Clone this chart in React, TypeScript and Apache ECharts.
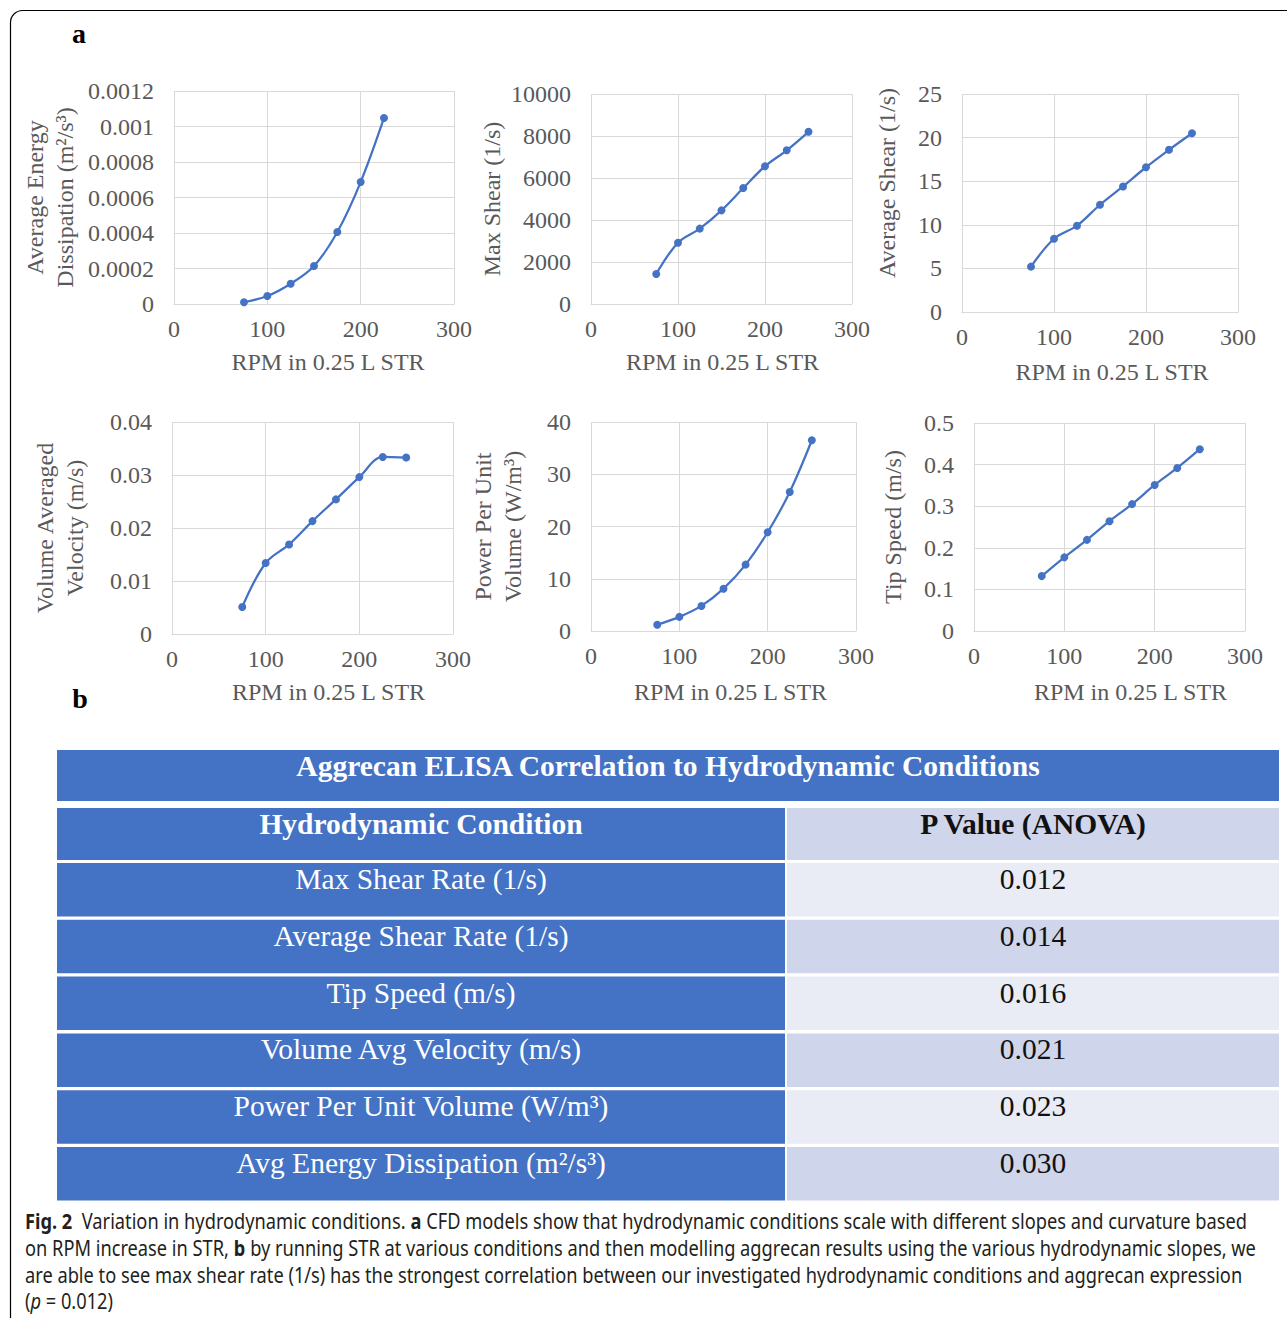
import React, { useEffect, useRef } from "react";
import * as echarts from "echarts";

// ---------------- data ----------------
const rpm7 = [75, 100, 125, 150, 175, 200, 225];
const rpm8 = [75, 100, 125, 150, 175, 200, 225, 250];
const energyDissipation = [0.00001, 0.000045, 0.000114, 0.000214, 0.000406, 0.000687, 0.001048];
const maxShear = [1430, 2920, 3590, 4460, 5520, 6560, 7320, 8200];
const avgShear = [5.2, 8.4, 9.9, 12.3, 14.4, 16.6, 18.6, 20.5];
const volVelocity = [0.0051, 0.0134, 0.0169, 0.0213, 0.0254, 0.0296, 0.0334, 0.0333];
const powerPerVolume = [1.2, 2.7, 4.8, 8.1, 12.7, 18.9, 26.6, 36.5];
const tipSpeed = [0.132, 0.177, 0.219, 0.264, 0.305, 0.351, 0.392, 0.437];

const xTickMax = 300;
const xTickStep = 100;
const xAxisTitle = "RPM in 0.25 L STR";

const tableTitle = "Aggrecan ELISA Correlation to Hydrodynamic Conditions";
const tableHeaders = ["Hydrodynamic Condition", "P Value (ANOVA)"];
const conditions = [
  "Max Shear Rate (1/s)",
  "Average Shear Rate (1/s)",
  "Tip Speed (m/s)",
  "Volume Avg Velocity (m/s)",
  "Power Per Unit Volume (W/m³)",
  "Avg Energy Dissipation (m²/s³)",
];
const pValues = ["0.012", "0.014", "0.016", "0.021", "0.023", "0.030"];

// caption: [text, style] segments per line (n normal, b bold, i italic)
const captionLine1: [string, string][] = [
  ["Fig. 2", "b"],
  ["  Variation in hydrodynamic conditions. ", "n"],
  ["a", "b"],
  [" CFD models show that hydrodynamic conditions scale with different slopes and curvature based", "n"],
];
const captionLine2: [string, string][] = [
  ["on RPM increase in STR, ", "n"],
  ["b", "b"],
  [" by running STR at various conditions and then modelling aggrecan results using the various hydrodynamic slopes, we", "n"],
];
const captionLine3: [string, string][] = [
  ["are able to see max shear rate (1/s) has the strongest correlation between our investigated hydrodynamic conditions and aggrecan expression", "n"],
];
const captionLine4: [string, string][] = [
  ["(", "n"],
  ["p", "i"],
  [" = 0.012)", "n"],
];

// ---------------- styles / layout ----------------
const SERIF = '"Liberation Serif", "Times New Roman", serif';
const SANS = '"Noto Sans", "Open Sans", sans-serif';
const AXIS_GRAY = "#595959";
const GRID_GRAY = "#d9d9d9";
const BLUE = "#4472C4";

const panels = [
  { grid: { left: 174, top: 91, width: 280, height: 213 }, x: rpm7, y: energyDissipation, yMax: 0.0012, yStep: 0.0002, dec: 4,
    yName: "Average Energy\nDissipation (m²/s³)", yGap: 94, yShift: 0, xGap: 46, xShift: 14 },
  { grid: { left: 591, top: 94, width: 261, height: 210 }, x: rpm8, y: maxShear, yMax: 10000, yStep: 2000, dec: 0,
    yName: "Max Shear (1/s)", yGap: 81, yShift: 0, xGap: 46, xShift: 1 },
  { grid: { left: 962, top: 94, width: 276, height: 218 }, x: rpm8, y: avgShear, yMax: 25, yStep: 5, dec: 0,
    yName: "Average Shear (1/s)", yGap: 60, yShift: 20, xGap: 48, xShift: 12 },
  { grid: { left: 172, top: 422, width: 281, height: 212 }, x: rpm8, y: volVelocity, yMax: 0.04, yStep: 0.01, dec: 2,
    yName: "Volume Averaged\nVelocity (m/s)", yGap: 82, yShift: 0, xGap: 46, xShift: 16 },
  { grid: { left: 591, top: 422, width: 265, height: 209 }, x: rpm8, y: powerPerVolume, yMax: 40, yStep: 10, dec: 0,
    yName: "Power Per Unit\nVolume (W/m³)", yGap: 63, yShift: 0, xGap: 49, xShift: 7 },
  { grid: { left: 974, top: 423, width: 271, height: 208 }, x: rpm8, y: tipSpeed, yMax: 0.5, yStep: 0.1, dec: 1,
    yName: "Tip Speed (m/s)", yGap: 66, yShift: 0, xGap: 49, xShift: 21 },
];

const TABLE = {
  left: 57, right: 1279, split: 786, gap: 2,
  titleTop: 750, titleH: 51,
  headTop: 808, headH: 52,
  rowTop: 863, rowPitch: 56.8, rowH: 53.5,
  textDy: 16, fontSize: 29.5,
};

const CAPTION = { x: 25, right: 1248, ys: [1221, 1248, 1274.5, 1301], fontSize: 21, color: "#231f20" };

function segFont(style: string, size: number) {
  const w = style === "b" ? "bold " : style === "i" ? "italic " : "";
  return `${w}${size}px ${SANS}`;
}

function measureLine(segs: [string, string][], size: number) {
  const ctx = document.createElement("canvas").getContext("2d")!;
  let w = 0;
  for (const [t, s] of segs) {
    ctx.font = segFont(s, size);
    w += ctx.measureText(t).width;
  }
  return w;
}

function buildOption() {
  const grids: any[] = [];
  const xAxes: any[] = [];
  const yAxes: any[] = [];
  const series: any[] = [];

  panels.forEach((p, i) => {
    grids.push({ ...p.grid, containLabel: false, outerBoundsMode: "none" });
    xAxes.push({
      type: "value",
      gridIndex: i,
      min: 0,
      max: xTickMax,
      interval: xTickStep,
      axisLine: { show: true, lineStyle: { color: GRID_GRAY, width: 1 } },
      axisTick: { show: false },
      splitLine: { show: true, lineStyle: { color: GRID_GRAY, width: 1 } },
      axisLabel: { color: AXIS_GRAY, fontFamily: SERIF, fontSize: 24, margin: 13 },
      name: xAxisTitle,
      nameLocation: "middle",
      nameGap: p.xGap,
      nameTextStyle: { color: AXIS_GRAY, fontFamily: SERIF, fontSize: 24, padding: [0, 0, 0, 2 * p.xShift] },
    });
    yAxes.push({
      type: "value",
      gridIndex: i,
      min: 0,
      max: p.yMax,
      interval: p.yStep,
      axisLine: { show: false },
      axisTick: { show: false },
      splitLine: { show: true, lineStyle: { color: GRID_GRAY, width: 1 } },
      axisLabel: {
        color: AXIS_GRAY, fontFamily: SERIF, fontSize: 24, margin: 20,
        formatter: (v: number) => String(+v.toFixed(p.dec)),
      },
      name: p.yName,
      nameLocation: "middle",
      nameGap: p.yGap,
      nameTextStyle: {
        color: AXIS_GRAY, fontFamily: SERIF, fontSize: 24, lineHeight: 30,
        padding: [0, 0, 0, 2 * p.yShift],
      },
    });
    series.push({
      type: "line",
      xAxisIndex: i,
      yAxisIndex: i,
      data: p.x.map((xv, k) => [xv, p.y[k]]),
      smooth: 0.35,
      symbol: "circle",
      symbolSize: 8,
      lineStyle: { color: BLUE, width: 2.25 },
      itemStyle: { color: BLUE },
    });
  });

  const graphic: any[] = [];
  // outer rounded frame
  graphic.push({
    type: "rect", silent: true,
    shape: { x: 10.5, y: 10.5, width: 1500, height: 1500, r: 12 },
    style: { fill: "none", stroke: "#000", lineWidth: 1.2 },
  });
  // panel letters
  graphic.push({ type: "text", x: 79, y: 33, style: { text: "a", font: `bold 28px ${SERIF}`, fill: "#000", align: "center", verticalAlign: "middle" } });
  graphic.push({ type: "text", x: 80, y: 698, style: { text: "b", font: `bold 28px ${SERIF}`, fill: "#000", align: "center", verticalAlign: "middle" } });

  // table
  const T = TABLE;
  const leftCx = (T.left + T.split - T.gap / 2) / 2;
  const rightCx = (T.split + T.gap / 2 + T.right) / 2;
  const fs = T.fontSize;
  graphic.push({ type: "rect", shape: { x: T.left, y: T.titleTop, width: T.right - T.left, height: T.titleH }, style: { fill: BLUE } });
  graphic.push({ type: "text", x: (T.left + T.right) / 2, y: T.titleTop + T.textDy,
    style: { text: tableTitle, font: `bold ${fs}px ${SERIF}`, fill: "#fff", align: "center", verticalAlign: "middle" } });

  const rowsTop = [T.headTop, ...conditions.map((_, i) => T.rowTop + i * T.rowPitch)];
  const rowsH = [T.headH, ...conditions.map(() => T.rowH)];
  const leftTexts = [tableHeaders[0], ...conditions];
  const rightTexts = [tableHeaders[1], ...pValues];
  rowsTop.forEach((top, r) => {
    const h = rowsH[r];
    const bold = r === 0 ? "bold " : "";
    graphic.push({ type: "rect", shape: { x: T.left, y: top, width: T.split - T.gap / 2 - T.left, height: h }, style: { fill: BLUE } });
    graphic.push({ type: "rect", shape: { x: T.split + T.gap / 2, y: top, width: T.right - T.split - T.gap / 2, height: h },
      style: { fill: r % 2 === 0 ? "#CFD5EA" : "#E9EBF5" } });
    graphic.push({ type: "text", x: leftCx, y: top + T.textDy,
      style: { text: leftTexts[r], font: `${bold}${fs}px ${SERIF}`, fill: "#fff", align: "center", verticalAlign: "middle" } });
    graphic.push({ type: "text", x: rightCx, y: top + T.textDy,
      style: { text: rightTexts[r], font: `${bold}${fs}px ${SERIF}`, fill: "#111", align: "center", verticalAlign: "middle" } });
  });

  // caption
  const C = CAPTION;
  const lines = [captionLine1, captionLine2, captionLine3, captionLine4];
  const sx = (C.right - C.x) / measureLine(captionLine1, C.fontSize);
  const rich = {
    n: { font: segFont("n", C.fontSize), fill: C.color },
    b: { font: segFont("b", C.fontSize), fill: C.color },
    i: { font: segFont("i", C.fontSize), fill: C.color },
  };
  lines.forEach((segs, li) => {
    graphic.push({
      type: "text", x: C.x, y: C.ys[li], scaleX: sx,
      style: {
        text: segs.map(([t, s]) => `{${s}|${t}}`).join(""),
        rich, font: segFont("n", C.fontSize), fill: C.color, align: "left", verticalAlign: "middle",
      },
    });
  });

  return {
    animation: false,
    backgroundColor: "#ffffff",
    grid: grids,
    xAxis: xAxes,
    yAxis: yAxes,
    series,
    graphic,
  };
}

export default function App() {
  const ref = useRef<HTMLDivElement>(null);
  useEffect(() => {
    document.body.style.margin = "0";
    const chart = echarts.init(ref.current!, undefined, { renderer: "svg" });
    chart.setOption(buildOption() as any);
    return () => chart.dispose();
  }, []);
  return (
    <div
      ref={ref}
      style={{ position: "absolute", left: 0, top: 0, width: 1287, height: 1318, background: "#fff" }}
    />
  );
}
